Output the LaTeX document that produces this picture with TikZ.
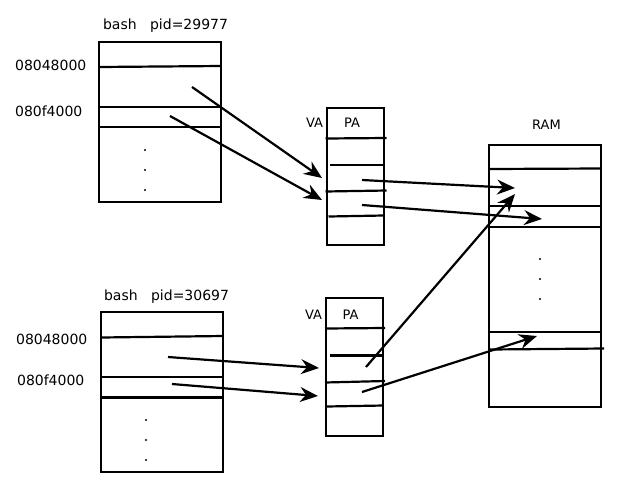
\documentclass[tikz,border=0pt]{standalone}
\usepackage{fontspec}
\setmainfont{DejaVu Sans}
\usetikzlibrary{arrows.meta}

\begin{document}
\begin{tikzpicture}[x=1pt,y=-1pt,line width=2.2pt]
\tikzstyle{every node}+=[inner sep=0pt]
\tikzstyle{membox}=[draw, black, rectangle, line width=2.4pt]
\tikzstyle{lbl}=[anchor=base west, font=\fontsize{14}{16}\selectfont]
\tikzstyle{tag}=[anchor=base west, font=\fontsize{13}{15}\selectfont]
\tikzstyle{map}=[-{Stealth[length=18pt,width=15pt,inset=6pt]}, line width=2.2pt]
\useasboundingbox (0,0) rectangle (642,480);
% process 29977
\node [membox, minimum width=122, minimum height=160] (P1) at (160,122) {};
\node [lbl] (P1name) at (102,29.5) {bash\ \ \ pid=29977};
\node [lbl] (P1code) at (14,70) {08048000};
\node [lbl] (P1data) at (14,116) {080f4000};
\draw [black] (99,67) -- (221,66);
\draw [black] (99,107) -- (221,107);
\draw [black] (99,127) -- (221,127);
% process 30697
\node [membox, minimum width=122, minimum height=160] (P2) at (162,392) {};
\node [lbl] (P2name) at (103,300.5) {bash\ \ \ pid=30697};
\node [lbl] (P2code) at (15,344) {08048000};
\node [lbl] (P2data) at (16,385.5) {080f4000};
\draw [black] (101,337.5) -- (223,336);
\draw [black] (101,377) -- (223,377);
\draw [black] (101,397.5) -- (223,397.5);
\foreach \y in {150,170,190} \fill (145,\y) circle (1.1);
\foreach \y in {420,440,460} \fill (146,\y) circle (1.1);
% page tables
\node [membox, minimum width=57, minimum height=137] (T1) at (355.5,176.5) {};
\node [tag] (T1va) at (305,127.5) {VA};
\node [tag] (T1pa) at (343,127.5) {PA};
\draw [black] (325.5,138.5) -- (386.5,138);
\draw [black] (330,165) -- (383.5,165);
\draw [black] (325.5,191.5) -- (386.5,190.5);
\draw [black] (328.5,216.5) -- (383.5,215.5);
\node [membox, minimum width=57, minimum height=138] (T2) at (354.5,367) {};
\node [tag] (T2va) at (304,319.5) {VA};
\node [tag] (T2pa) at (341.5,319.5) {PA};
\draw [black] (325,328.5) -- (385,328);
\draw [black] (329.5,355.5) -- (382.5,355.5);
\draw [black] (325,382.5) -- (385,381);
\draw [black] (326.5,406.5) -- (383.5,405.5);
% ram
\node [membox, minimum width=112, minimum height=262] (RAM) at (545,276) {};
\node [tag] (RAMname) at (531,129.5) {RAM};
\draw [black] (489,169) -- (601,168.5);
\draw [black] (489,206) -- (601,206);
\draw [black] (489,227) -- (601,227);
\draw [black] (487.5,332) -- (601,332);
\draw [black] (490,349.5) -- (604,348.5);
\foreach \y in {259,279,299} \fill (540,\y) circle (1.1);
% mapping points
\coordinate (p1a) at (192,87);
\coordinate (p1b) at (170,116);
\coordinate (p2a) at (168,357);
\coordinate (p2b) at (172,384);
\coordinate (t1ina) at (322,178);
\coordinate (t1inb) at (322,200);
\coordinate (t2ina) at (319,368);
\coordinate (t2inb) at (318,396);
\coordinate (t1a) at (362,180);
\coordinate (t1b) at (362,205);
\coordinate (t2a) at (366,367);
\coordinate (t2b) at (362,392);
\coordinate (fr1) at (515,188);
\coordinate (fr2) at (542,219);
\coordinate (fr3) at (515,194);
\coordinate (fr4) at (537,336);
\draw [map] (p1a) -- (t1ina);
\draw [map] (p1b) -- (t1inb);
\draw [map] (p2a) -- (t2ina);
\draw [map] (p2b) -- (t2inb);
\draw [map] (t1a) -- (fr1);
\draw [map] (t1b) -- (fr2);
\draw [map] (t2a) -- (fr3);
\draw [map] (t2b) -- (fr4);
\end{tikzpicture}
\end{document}
